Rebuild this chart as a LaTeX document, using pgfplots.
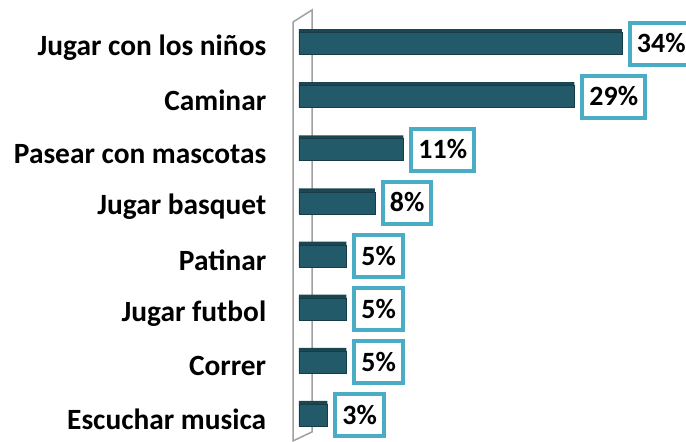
\documentclass[border=0pt]{standalone}
\usepackage{fontspec}
\setmainfont{Carlito}
\usepackage{pgfplots}
\pgfplotsset{compat=1.18}
\definecolor{barfill}{RGB}{34,90,105}
\definecolor{bartop}{RGB}{26,70,82}
\definecolor{baredge}{RGB}{22,60,72}
\definecolor{boxline}{RGB}{75,172,198}
\definecolor{wall}{RGB}{160,160,160}
\begin{document}
\begin{tikzpicture}
\begin{axis}[
  scale only axis,
  width=380bp, height=425bp,
  xmin=0, xmax=40,
  ymin=-0.5, ymax=7.5,
  y dir=reverse,
  clip=false,
  axis line style={draw=none},
  tick style={draw=none},
  xtick=\empty,
  ytick={0,1,2,3,4,5,6,7},
  yticklabels={Jugar con los niños,Caminar,Pasear con mascotas,Jugar basquet,Patinar,Jugar futbol,Correr,Escuchar musica},
  yticklabel style={font=\fontsize{29.5}{32}\selectfont\bfseries, xshift=-25bp, yshift=-4bp},
  /pgf/number format/assume math mode=true,
  xbar,
]
\draw[wall, line width=1.5bp] (axis cs:-0.63,7.48) -- (axis cs:-0.63,-0.406) -- (axis cs:1.37,-0.632) -- (axis cs:1.37,7.31) -- cycle;
\addplot[fill=bartop, draw=none, bar width=4bp, bar shift=12.5bp] coordinates {(34,0) (29,1) (11,2) (8,3) (5,4) (5,5) (5,6) (3,7)};
\addplot[fill=barfill, draw=baredge, line width=0.8bp, bar width=22bp, bar shift=0bp,
  nodes near coords={\pgfmathprintnumber{\pgfplotspointmeta}\%},
  every node near coord/.append style={font=\fontsize{28}{32}\selectfont\bfseries, anchor=west, xshift=6bp,
    draw=boxline, line width=4bp, fill=white, inner xsep=7bp, minimum height=42bp, text height=18bp, text depth=0bp},
] coordinates {(34,0) (29,1) (11,2) (8,3) (5,4) (5,5) (5,6) (3,7)};
\end{axis}
\pgfresetboundingbox
\useasboundingbox (current axis.south west) ++(-299bp,0) rectangle ++(686bp,442bp);
\end{tikzpicture}
\end{document}
